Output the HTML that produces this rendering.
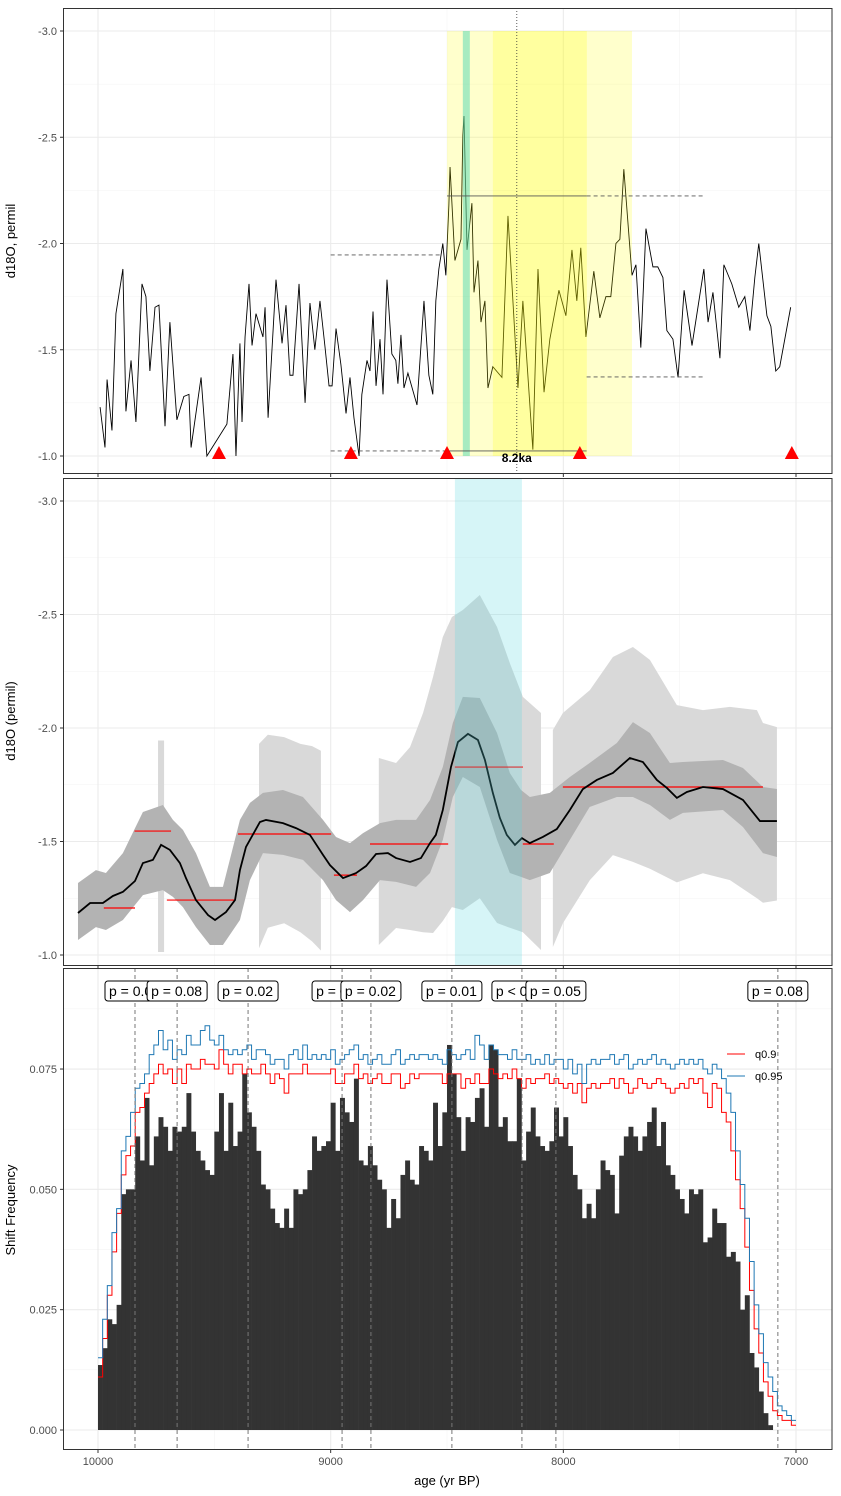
<!DOCTYPE html>
<html><head><meta charset="utf-8">
<style>
html,body{margin:0;padding:0;background:#fff;}
svg{display:block;font-family:"Liberation Sans",sans-serif;}
</style></head>
<body>
<svg id="chart" width="841" height="1496" viewBox="0 0 841 1496" xmlns="http://www.w3.org/2000/svg">
<defs>
<clipPath id="c1"><rect x="63" y="8" width="769" height="466"/></clipPath>
<clipPath id="c2"><rect x="63" y="478" width="769" height="488"/></clipPath>
<clipPath id="c3"><rect x="63" y="968" width="769" height="482"/></clipPath>
</defs>
<rect x="0" y="0" width="841" height="1496" fill="#fff"/>
<g id="p1"></g>
<g id="p2"></g>
<g id="p3"></g>
<text x="15" y="241" transform="rotate(-90 15 241)" text-anchor="middle" font-size="13">d18O, permil</text>
<text x="15" y="721" transform="rotate(-90 15 721)" text-anchor="middle" font-size="13">d18O (permil)</text>
<text x="15" y="1210" transform="rotate(-90 15 1210)" text-anchor="middle" font-size="13">Shift Frequency</text>
<text x="447" y="1485" text-anchor="middle" font-size="13">age (yr BP)</text>
</svg>
<script>
// ---------- data ----------
const topAges = [9991,9970,9961,9940,9923,9893,9880,9858,9837,9811,9794,9777,9755,9738,9712,9691,9661,9631,9609,9600,9557,9532,9446,9420,9407,9390,9381,9368,9351,9338,9321,9291,9282,9269,9235,9209,9192,9175,9162,9136,9110,9089,9068,9046,9025,9007,8994,8977,8956,8934,8917,8900,8878,8866,8844,8831,8818,8805,8788,8775,8758,8737,8720,8711,8698,8685,8668,8629,8599,8578,8561,8548,8535,8518,8505,8492,8487,8466,8440,8432,8427,8414,8393,8384,8367,8354,8337,8324,8303,8264,8238,8195,8174,8131,8109,8083,8058,8019,7989,7963,7942,7925,7903,7869,7843,7817,7796,7774,7757,7740,7705,7688,7667,7645,7615,7594,7572,7555,7529,7507,7481,7447,7396,7378,7357,7327,7310,7276,7246,7220,7198,7177,7160,7125,7108,7087,7070,7023];
const topVals = [-1.23,-1.04,-1.36,-1.12,-1.67,-1.88,-1.21,-1.45,-1.16,-1.81,-1.75,-1.40,-1.70,-1.71,-1.14,-1.63,-1.17,-1.28,-1.29,-1.04,-1.37,-1.00,-1.15,-1.48,-1.00,-1.53,-1.16,-1.56,-1.81,-1.52,-1.67,-1.56,-1.70,-1.18,-1.83,-1.53,-1.71,-1.38,-1.38,-1.81,-1.25,-1.72,-1.50,-1.73,-1.52,-1.33,-1.33,-1.60,-1.43,-1.20,-1.37,-1.18,-1.00,-1.29,-1.45,-1.40,-1.68,-1.33,-1.55,-1.29,-1.83,-1.48,-1.45,-1.34,-1.57,-1.32,-1.39,-1.24,-1.73,-1.38,-1.29,-1.73,-1.88,-2.00,-1.85,-2.18,-2.36,-1.92,-2.02,-2.51,-2.60,-1.97,-2.19,-1.77,-1.92,-1.63,-1.73,-1.32,-1.42,-1.37,-2.13,-1.32,-1.73,-1.03,-1.88,-1.30,-1.55,-1.78,-1.66,-1.97,-1.73,-1.98,-1.56,-1.87,-1.65,-1.75,-1.75,-2.00,-2.02,-2.35,-1.85,-1.90,-1.51,-2.07,-1.89,-1.89,-1.84,-1.59,-1.55,-1.37,-1.78,-1.52,-1.88,-1.63,-1.77,-1.46,-1.90,-1.81,-1.70,-1.75,-1.59,-1.84,-2.00,-1.66,-1.61,-1.40,-1.42,-1.70];
const triangleAges = [9480,8913,8500,7929,7018];
const topLevelStarts = [9000,8500,8500,7900,7900,9000];
const topLevelEnds = [8530,7900,7900,7392,7392,8500];
const topLevelVals = [-1.946,-2.224,-1.024,-2.224,-1.372,-1.024];
const topLevelDashed = [true,false,false,true,true,true];

const medAges = [10086,10034,9979,9936,9893,9841,9807,9764,9729,9691,9648,9622,9579,9527,9497,9450,9411,9390,9364,9304,9278,9205,9149,9089,9033,9003,8947,8891,8848,8805,8754,8719,8659,8612,8573,8548,8518,8483,8453,8410,8367,8337,8303,8273,8243,8208,8178,8144,8088,8028,7972,7916,7856,7787,7714,7658,7598,7555,7512,7469,7400,7314,7228,7155,7082];
const medVals = [-1.185,-1.229,-1.229,-1.260,-1.278,-1.326,-1.405,-1.419,-1.485,-1.463,-1.405,-1.339,-1.242,-1.176,-1.154,-1.189,-1.242,-1.374,-1.476,-1.586,-1.595,-1.581,-1.559,-1.529,-1.441,-1.396,-1.339,-1.361,-1.392,-1.445,-1.449,-1.427,-1.410,-1.427,-1.493,-1.529,-1.639,-1.828,-1.938,-1.974,-1.947,-1.859,-1.714,-1.604,-1.529,-1.485,-1.515,-1.493,-1.520,-1.555,-1.639,-1.731,-1.771,-1.802,-1.868,-1.850,-1.771,-1.736,-1.692,-1.718,-1.740,-1.731,-1.683,-1.590,-1.590];
const innerAges = [10086,10009,9966,9893,9807,9721,9678,9635,9579,9519,9463,9390,9347,9291,9205,9119,9033,8977,8917,8861,8788,8719,8633,8573,8518,8475,8432,8359,8285,8230,8182,8144,8058,7972,7887,7770,7701,7628,7542,7486,7314,7228,7142,7082];
const innerHi = [-1.317,-1.374,-1.361,-1.449,-1.630,-1.661,-1.595,-1.551,-1.449,-1.300,-1.300,-1.595,-1.670,-1.714,-1.727,-1.696,-1.595,-1.520,-1.493,-1.537,-1.581,-1.595,-1.595,-1.683,-1.828,-2.022,-2.137,-2.132,-1.978,-1.802,-1.727,-1.696,-1.714,-1.784,-1.846,-1.934,-2.026,-1.978,-1.846,-1.850,-1.859,-1.824,-1.740,-1.731];
const innerLo = [-1.066,-1.123,-1.110,-1.154,-1.264,-1.286,-1.256,-1.211,-1.123,-1.044,-1.044,-1.154,-1.330,-1.449,-1.441,-1.419,-1.330,-1.242,-1.189,-1.242,-1.330,-1.322,-1.300,-1.361,-1.507,-1.696,-1.784,-1.740,-1.507,-1.361,-1.344,-1.330,-1.361,-1.507,-1.652,-1.696,-1.696,-1.661,-1.595,-1.626,-1.639,-1.564,-1.449,-1.432];
const outerAAges = [9742,9716];
const outerAHi = [-1.945,-1.945];
const outerALo = [-1.013,-1.013];
const outerBAges = [9308,9270,9200,9130,9080,9042];
const outerBHi = [-1.93,-1.97,-1.96,-1.93,-1.92,-1.90];
const outerBLo = [-1.03,-1.12,-1.14,-1.10,-1.06,-1.02];
const outerCAges = [8793,8719,8659,8603,8560,8518,8479,8432,8359,8285,8230,8174,8096];
const outerCHi = [-1.868,-1.846,-1.916,-2.066,-2.225,-2.401,-2.489,-2.520,-2.586,-2.445,-2.286,-2.137,-2.066];
const outerCLo = [-1.044,-1.119,-1.11,-1.10,-1.097,-1.15,-1.211,-1.198,-1.25,-1.141,-1.12,-1.10,-1.022];
const outerDAges = [8045,8002,7886,7787,7701,7628,7512,7400,7284,7168,7142,7082];
const outerDHi = [-1.991,-2.066,-2.167,-2.313,-2.357,-2.300,-2.101,-2.079,-2.093,-2.079,-2.022,-2.004];
const outerDLo = [-1.035,-1.14,-1.33,-1.44,-1.41,-1.38,-1.32,-1.36,-1.33,-1.25,-1.23,-1.24];
const segStarts = [9975,9843,9704,9398,8986,8831,8466,8174,8002];
const segEnds = [9841,9686,9411,8998,8887,8495,8174,8041,7142];
const segVals = [-1.207,-1.546,-1.242,-1.533,-1.352,-1.489,-1.828,-1.489,-1.740];

const binStart = 10000;
const binWidth = 20;
const barVals = [0.0135,0.017,0.023,0.022,0.026,0.049,0.050,0.050,0.061,0.056,0.069,0.055,0.061,0.065,0.063,0.058,0.063,0.062,0.063,0.070,0.062,0.058,0.056,0.054,0.053,0.062,0.070,0.058,0.068,0.059,0.062,0.074,0.066,0.063,0.058,0.051,0.050,0.046,0.043,0.042,0.046,0.042,0.050,0.049,0.050,0.054,0.061,0.058,0.059,0.060,0.068,0.058,0.069,0.066,0.064,0.073,0.056,0.055,0.059,0.055,0.052,0.050,0.042,0.048,0.044,0.053,0.056,0.052,0.051,0.059,0.058,0.056,0.068,0.059,0.066,0.080,0.074,
0.065,0.058,0.065,0.064,0.069,0.071,0.063,0.080,0.079,0.063,0.065,0.060,0.060,0.073,0.056,0.062,0.067,0.061,0.059,0.058,0.060,0.067,0.061,0.065,0.059,0.053,0.050,0.044,0.047,0.044,0.050,0.056,0.054,0.053,0.045,0.057,0.061,0.063,0.061,0.058,0.061,0.064,0.067,0.059,0.064,0.055,0.053,0.050,0.048,0.045,0.050,0.049,0.050,0.039,0.040,0.046,0.043,0.043,0.036,0.037,0.035,0.025,0.028,0.016,0.013,0.008,0.0035,0.001,0,0,0,0,0];
const q90Vals = [0.011,0.019,0.028,0.037,0.045,0.053,0.057,0.059,0.066,0.067,0.070,0.072,0.074,0.076,0.074,0.075,0.072,0.075,0.072,0.076,0.075,0.075,0.077,0.076,0.076,0.075,0.079,0.076,0.074,0.076,0.076,0.074,0.075,0.074,0.074,0.076,0.074,0.072,0.074,0.073,0.070,0.074,0.074,0.074,0.076,0.074,0.074,0.074,0.074,0.074,0.075,0.072,0.072,0.074,0.074,0.076,0.073,0.074,0.072,0.073,0.074,0.072,0.072,0.074,0.074,0.071,0.072,0.074,0.073,0.074,0.074,0.074,0.074,0.074,0.072,0.074,0.074,
0.074,0.071,0.073,0.072,0.074,0.072,0.072,0.075,0.074,0.073,0.074,0.073,0.075,0.073,0.071,0.073,0.072,0.073,0.073,0.074,0.072,0.073,0.072,0.071,0.072,0.070,0.072,0.068,0.071,0.072,0.071,0.072,0.072,0.073,0.071,0.073,0.072,0.070,0.071,0.073,0.072,0.071,0.072,0.073,0.072,0.071,0.070,0.071,0.072,0.071,0.073,0.072,0.073,0.070,0.067,0.072,0.071,0.066,0.064,0.058,0.052,0.046,0.038,0.029,0.021,0.016,0.010,0.007,0.004,0.003,0.002,0.002,0.001];
const q95Vals = [0.015,0.023,0.030,0.041,0.046,0.058,0.061,0.066,0.071,0.072,0.074,0.078,0.080,0.083,0.079,0.081,0.077,0.079,0.078,0.082,0.080,0.080,0.083,0.084,0.081,0.080,0.082,0.079,0.078,0.079,0.078,0.079,0.080,0.077,0.079,0.079,0.078,0.076,0.077,0.077,0.075,0.078,0.079,0.077,0.080,0.077,0.078,0.077,0.078,0.077,0.079,0.076,0.077,0.078,0.079,0.080,0.077,0.078,0.076,0.077,0.078,0.076,0.076,0.078,0.079,0.076,0.077,0.078,0.077,0.078,0.078,0.077,0.078,0.077,0.076,0.079,0.078,
0.077,0.078,0.079,0.077,0.082,0.080,0.077,0.080,0.079,0.078,0.078,0.077,0.079,0.077,0.077,0.078,0.076,0.077,0.076,0.078,0.076,0.077,0.077,0.075,0.077,0.074,0.076,0.072,0.076,0.077,0.076,0.077,0.077,0.078,0.076,0.077,0.078,0.075,0.076,0.077,0.076,0.077,0.078,0.076,0.077,0.076,0.075,0.076,0.077,0.076,0.077,0.076,0.077,0.075,0.074,0.076,0.075,0.073,0.070,0.066,0.058,0.051,0.044,0.035,0.026,0.020,0.014,0.011,0.008,0.005,0.004,0.003,0.002];
const shiftAges = [9841,9660,9355,8951,8827,8479,8178,8032,7078];
const shiftLabels = ["p = 0.06","p = 0.08","p = 0.02","p = 0.04","p = 0.02","p = 0.01","p < 0.01","p = 0.05","p = 0.08"];
const xTickVals = [10000,9000,8000,7000];
const xTickLabels = ["10000","9000","8000","7000"];
const y1TickVals = [-3.0,-2.5,-2.0,-1.5,-1.0];
const y1TickLabels = ["-3.0","-2.5","-2.0","-1.5","-1.0"];
const y3TickVals = [0,0.025,0.05,0.075];
const y3TickLabels = ["0.000","0.025","0.050","0.075"];

// ---------- scales ----------
const xs = a => 98 + (10000 - a) * 0.23267;
const y1 = v => 456 + (v + 1) * 212.5;
const y2 = v => 955 + (v + 1) * 227;
const y3 = f => 1430 - f * 4813;
const NS = "http://www.w3.org/2000/svg";
function mk(parent, tag, attrs) {
  const e = document.createElementNS(NS, tag);
  for (const k in attrs) e.setAttribute(k, attrs[k]);
  parent.appendChild(e);
  return e;
}
const p1 = document.getElementById('p1');
const p2 = document.getElementById('p2');
const p3 = document.getElementById('p3');

function panelBase(g, top, bottom, yScale, yVals, yLabels, minorVals, showXLabels) {
  const bg = mk(g, 'rect', {x:63, y:top, width:769, height:bottom-top, fill:'#fff'});
  
  
  minorVals.forEach(v => {
    const l = mk(g, 'line', {x1:63, x2:832, y1:yScale(v), y2:yScale(v), stroke:'#f3f3f3', 'stroke-width':0.6});
    
    
  });
  [9500,8500,7500].forEach(a => {
    const l = mk(g, 'line', {x1:xs(a), x2:xs(a), y1:top, y2:bottom, stroke:'#f3f3f3', 'stroke-width':0.6});
    
    
  });
  yVals.forEach((v, i) => {
    const l = mk(g, 'line', {x1:63, x2:832, y1:yScale(v), y2:yScale(v), stroke:'#ebebeb', 'stroke-width':1.1});
    
    
    const t = mk(g, 'text', {x:57, y:yScale(v)+4, 'text-anchor':'end', 'font-size':11, fill:'#4d4d4d'});
    t.textContent = yLabels[i];
    
    
    const tk = mk(g, 'line', {x1:60, x2:63, y1:yScale(v), y2:yScale(v), stroke:'#333'});
    
    
  });
  xTickVals.forEach((a, i) => {
    const l = mk(g, 'line', {x1:xs(a), x2:xs(a), y1:top, y2:bottom, stroke:'#ebebeb', 'stroke-width':1.1});
    
    
    const tk = mk(g, 'line', {x1:xs(a), x2:xs(a), y1:bottom, y2:bottom+3, stroke:'#333'});
    
    
    if (showXLabels) {
      const t = mk(g, 'text', {x:xs(a), y:bottom+15, 'text-anchor':'middle', 'font-size':11, fill:'#4d4d4d'});
      t.textContent = xTickLabels[i];
      
      
    }
  });
}
function border(g, top, bottom) {
  const b = mk(g, 'rect', {x:63.5, y:top+0.5, width:768.5, height:bottom-top-1, fill:'none', stroke:'#333', 'stroke-width':1});
  
  
}
function linePath(ages, vals, ys) {
  return ages.map((a, i) => (i ? 'L' : 'M') + xs(a).toFixed(2) + ' ' + ys(vals[i]).toFixed(2)).join(' ');
}
function bandPath(ages, hi, lo, ys) {
  let d = ages.map((a, i) => (i ? 'L' : 'M') + xs(a).toFixed(2) + ' ' + ys(hi[i]).toFixed(2)).join(' ');
  for (let i = ages.length - 1; i >= 0; i--) d += ' L' + xs(ages[i]).toFixed(2) + ' ' + ys(lo[i]).toFixed(2);
  return d + ' Z';
}

// ---------- panel 1 ----------
panelBase(p1, 8, 474, y1, y1TickVals, y1TickLabels, [-2.75,-2.25,-1.75,-1.25], false);
const c1 = mk(p1, 'g', {'clip-path':'url(#c1)'});
const rawLine = mk(c1, 'path', {d: linePath(topAges, topVals, y1), fill:'none', stroke:'#000', 'stroke-width':0.9});


const shadeOuter = mk(c1, 'rect', {x:xs(8500), y:y1(-3.0), width:xs(7705)-xs(8500), height:y1(-1.0)-y1(-3.0), fill:'rgba(255,255,0,0.2)'});


const shadeInner = mk(c1, 'rect', {x:xs(8303), y:y1(-3.0), width:xs(7899)-xs(8303), height:y1(-1.0)-y1(-3.0), fill:'rgba(255,255,0,0.22)'});


const teal = mk(c1, 'rect', {x:xs(8432), y:y1(-3.0), width:7, height:y1(-1.0)-y1(-3.0), fill:'rgba(80,215,180,0.5)'});


topLevelVals.forEach((v, i) => {
  const l = mk(c1, 'line', {x1:xs(topLevelStarts[i]), x2:xs(topLevelEnds[i]), y1:y1(v), y2:y1(v), stroke:'#555', 'stroke-width':0.9});
  if (topLevelDashed[i]) l.setAttribute('stroke-dasharray', '4 3');
  
  
});
const dot82 = mk(c1, 'line', {x1:xs(8200), x2:xs(8200), y1:8, y2:474, stroke:'#333', 'stroke-width':0.8, 'stroke-dasharray':'1 2'});


triangleAges.forEach(a => {
  const x = xs(a), y = 453;
  const t = mk(c1, 'polygon', {points:`${x-7},${y+6} ${x+7},${y+6} ${x},${y-7}`, fill:'#ff0000'});
  
  
});
const lbl82 = mk(p1, 'text', {x:xs(8200), y:462, 'text-anchor':'middle', 'font-size':12, 'font-weight':'bold'});
lbl82.textContent = '8.2ka';


border(p1, 8, 474);

// ---------- panel 2 ----------
panelBase(p2, 478, 966, y2, y1TickVals, y1TickLabels, [-2.75,-2.25,-1.75,-1.25], false);
const c2 = mk(p2, 'g', {'clip-path':'url(#c2)'});
[[outerAAges,outerAHi,outerALo],[outerBAges,outerBHi,outerBLo],[outerCAges,outerCHi,outerCLo],[outerDAges,outerDHi,outerDLo]].forEach(s => {
  const b = mk(c2, 'path', {d: bandPath(s[0], s[1], s[2], y2), fill:'#d9d9d9'});
  
  
});
const inner = mk(c2, 'path', {d: bandPath(innerAges, innerHi, innerLo, y2), fill:'#b3b3b3'});


segVals.forEach((v, i) => {
  const l = mk(c2, 'line', {x1:xs(segStarts[i]), x2:xs(segEnds[i]), y1:y2(v), y2:y2(v), stroke:'#ff0000', 'stroke-width':1.2});
  
  
});
const med = mk(c2, 'path', {d: linePath(medAges, medVals, y2), fill:'none', stroke:'#000', 'stroke-width':1.8});


const cyan = mk(c2, 'rect', {x:xs(8466), y:478, width:xs(8178)-xs(8466), height:488, fill:'rgba(90,214,222,0.25)'});


border(p2, 478, 966);

// ---------- panel 3 ----------
panelBase(p3, 968, 1450, y3, y3TickVals, y3TickLabels, [0.0125,0.0375,0.0625,0.0875], true);
const c3 = mk(p3, 'g', {'clip-path':'url(#c3)'});
barVals.forEach((v, i) => {
  if (v <= 0) return;
  const a0 = binStart - i * binWidth, a1 = a0 - binWidth;
  const r = mk(c3, 'rect', {x:xs(a0), y:y3(v), width:xs(a1)-xs(a0)+0.3, height:y3(0)-y3(v), fill:'#333333'});
  
  
});
function stepPath(vals) {
  let d = '';
  vals.forEach((v, i) => {
    const a0 = binStart - i * binWidth, a1 = a0 - binWidth;
    d += (i ? ' L' : 'M') + xs(a0).toFixed(2) + ' ' + y3(v).toFixed(2) + ' L' + xs(a1).toFixed(2) + ' ' + y3(v).toFixed(2);
  });
  return d;
}
const q90 = mk(c3, 'path', {d: stepPath(q90Vals), fill:'none', stroke:'#ff0000', 'stroke-width':1});


const q95 = mk(c3, 'path', {d: stepPath(q95Vals), fill:'none', stroke:'#1f78b4', 'stroke-width':1});


shiftAges.forEach((a, i) => {
  const l = mk(c3, 'line', {x1:xs(a), x2:xs(a), y1:968, y2:1450, stroke:'#777', 'stroke-width':1, 'stroke-dasharray':'4 3'});
  
  
});
shiftAges.forEach((a, i) => {
  const x = xs(a);
  const g = mk(p3, 'g', {});
  
  
  const r = mk(g, 'rect', {x:x-30, y:981, width:60, height:20, rx:3, fill:'#fff', stroke:'#000', 'stroke-width':1});
  
  
  const t = mk(g, 'text', {x:x-26, y:996, 'font-size':14});
  t.textContent = shiftLabels[i];
  
  
});
const legend = mk(p3, 'g', {});


[['q0.9','#ff0000',1054],['q0.95','#1f78b4',1076]].forEach(e => {
  const l = mk(legend, 'line', {x1:727, x2:745, y1:e[2], y2:e[2], stroke:e[1], 'stroke-width':1});
  
  
  const t = mk(legend, 'text', {x:755, y:e[2]+4, 'font-size':11});
  t.textContent = e[0];
  
  
});
border(p3, 968, 1450);
</script>
</body></html>
